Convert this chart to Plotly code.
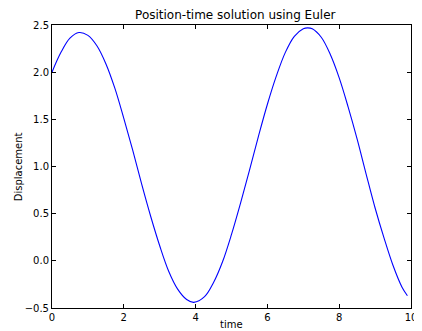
import plotly.graph_objects as go

# values
time = [0.0, 0.25, 0.5, 0.75, 1.0, 1.25, 1.5, 1.75, 2.0, 2.25, 2.5, 2.75, 3.0,
        3.25, 3.5, 3.75, 3.95, 4.25, 4.5, 4.75, 5.0, 5.25, 5.5, 5.75, 6.0,
        6.25, 6.5, 6.75, 7.0, 7.12, 7.25, 7.5, 7.75, 8.0, 8.25, 8.5, 8.75,
        9.0, 9.25, 9.5, 9.75, 9.9]
displacement = [2.00, 2.21, 2.36, 2.42, 2.39, 2.28, 2.09, 1.83, 1.51, 1.17, 0.81,
                0.47, 0.16, -0.11, -0.30, -0.41, -0.44, -0.38, -0.23, -0.01, 0.28,
                0.61, 0.96, 1.32, 1.66, 1.96, 2.21, 2.38, 2.46, 2.47, 2.46, 2.37,
                2.19, 1.94, 1.63, 1.29, 0.92, 0.56, 0.24, -0.05, -0.28, -0.37]

x_ticks = [0, 2, 4, 6, 8, 10]
y_ticks = [-0.5, 0.0, 0.5, 1.0, 1.5, 2.0, 2.5]

FONT = "DejaVu Sans"

fig = go.Figure()
fig.add_trace(go.Scatter(x=time, y=displacement, mode="lines",
                         line=dict(color="#0000ff", width=1.1, shape="spline", smoothing=1.0),
                         hoverinfo="skip"))

axis_common = dict(showline=True, linecolor="black", linewidth=1, mirror="allticks",
                   ticks="inside", ticklen=4, tickwidth=1, tickcolor="black",
                   showgrid=False, zeroline=False, ticklabeloverflow="allow",
                   tickfont=dict(family=FONT, size=10, color="black"))

# the page body adds an 8px offset, so the figure is sized to fit the window
fig.update_layout(
    width=414, height=323,
    margin=dict(l=44, r=5, t=17, b=23, pad=0),
    paper_bgcolor="white", plot_bgcolor="white",
    showlegend=False,
    title=dict(text="Position-time solution using Euler", x=0.549, xanchor="center",
               y=0.978, yanchor="middle", font=dict(family=FONT, size=12, color="black")),
    xaxis=dict(range=[0, 10], tickvals=x_ticks, ticktext=[str(v) for v in x_ticks],
               **axis_common),
    yaxis=dict(range=[-0.5, 2.5], tickvals=y_ticks, tickformat=".1f",
               **axis_common),
    annotations=[
        dict(text="time", xref="paper", yref="paper", x=0.5, y=-0.060,
             xanchor="center", yanchor="middle", showarrow=False,
             font=dict(family=FONT, size=10, color="black")),
        dict(text="Displacement", xref="paper", yref="paper", x=-0.0925, y=0.5,
             xanchor="center", yanchor="middle", textangle=-90, showarrow=False,
             font=dict(family=FONT, size=10, color="black")),
    ],
)

fig.write_html("out.html")
